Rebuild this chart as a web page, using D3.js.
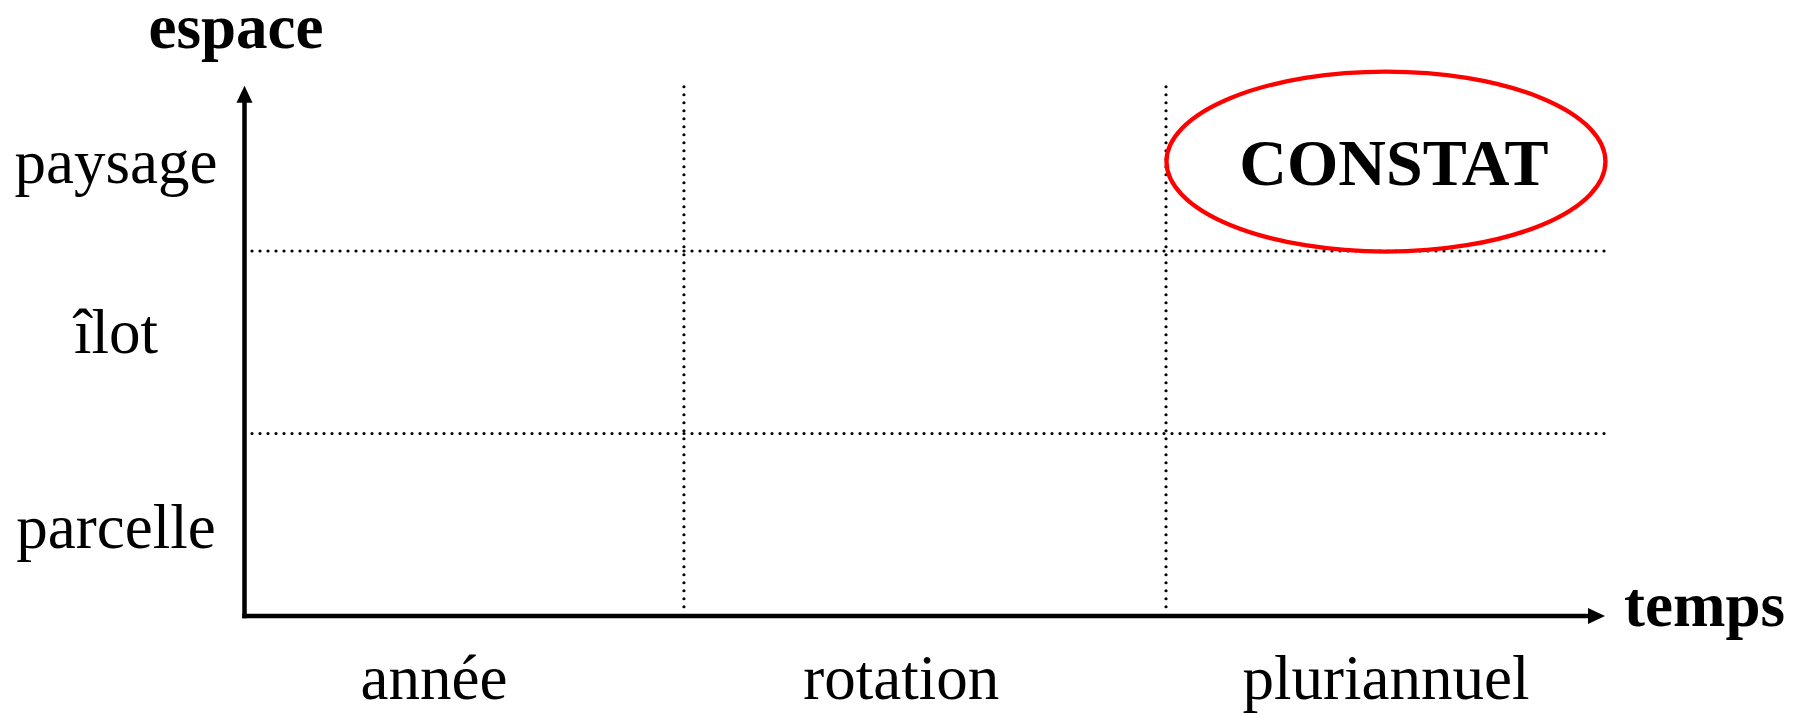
<!DOCTYPE html>
<html>
<head>
<meta charset="utf-8">
<script src="https://cdn.jsdelivr.net/npm/d3@7"></script>
<style>
  html, body { margin: 0; padding: 0; background: #fff; }
  svg { display: block; }
  text { font-family: "Liberation Serif", "Times New Roman", serif; fill: #000; }
</style>
</head>
<body>
<div id="chart"></div>
<script>
// ---- data ----
const spaceLevels = ["parcelle", "îlot", "paysage"];
const spaceLabelPos = [0.37, 1.44, 2.37];      // baseline of each row label, in space units
const spaceDividers = [1, 2];                    // dotted horizontal separators
const timeLevels = ["année", "rotation", "pluriannuel"];
const timeLabelPos = [0.418, 1.448, 2.517];      // centre of each column label, in time units
const timeDividers = [0.969, 2.032];             // dotted vertical separators
const highlight = [{ label: "CONSTAT", time: 2.517, space: 2.49, rt: 0.484, rs: 0.493 }];
const axisTitles = { x: "temps", y: "espace" };

// ---- layout ----
const W = 1802, H = 715;
const svg = d3.select("#chart").append("svg").attr("width", W).attr("height", H);

const x = d3.scaleLinear().domain([0, 3]).range([244.5, 1605]);
const y = d3.scaleLinear().domain([0, 3]).range([616, 68.5]);

const yTop = 2.905;    // arrow tip of the space axis
const gridTop = 2.9;

// dotted horizontal dividers
svg.selectAll("line.hgrid").data(spaceDividers).join("line")
  .attr("class", "hgrid")
  .attr("x1", x(0) + 7.5).attr("x2", x(3))
  .attr("y1", d => y(d)).attr("y2", d => y(d))
  .attr("stroke", "#000").attr("stroke-width", 3.2)
  .attr("stroke-linecap", "round").attr("stroke-dasharray", "0 8");

// dotted vertical dividers
svg.selectAll("line.vgrid").data(timeDividers).join("line")
  .attr("class", "vgrid")
  .attr("x1", d => x(d)).attr("x2", d => x(d))
  .attr("y1", y(gridTop)).attr("y2", y(0) - 9)
  .attr("stroke", "#000").attr("stroke-width", 3.2)
  .attr("stroke-linecap", "round").attr("stroke-dasharray", "0 8");

// axes
const axisW = 4.5, headL = 17, headHW = 8;
svg.append("line")
  .attr("x1", x(0)).attr("x2", x(0))
  .attr("y1", y(0) + axisW / 2).attr("y2", y(yTop) + headL - 1)
  .attr("stroke", "#000").attr("stroke-width", axisW);
svg.append("path")
  .attr("d", `M${x(0)},${y(yTop)} L${x(0) - headHW},${y(yTop) + headL} L${x(0) + headHW},${y(yTop) + headL} Z`)
  .attr("fill", "#000");
svg.append("line")
  .attr("x1", x(0) - axisW / 2).attr("x2", x(3) - headL + 1)
  .attr("y1", y(0)).attr("y2", y(0))
  .attr("stroke", "#000").attr("stroke-width", axisW);
svg.append("path")
  .attr("d", `M${x(3)},${y(0)} L${x(3) - headL},${y(0) - headHW} L${x(3) - headL},${y(0) + headHW} Z`)
  .attr("fill", "#000");

// row labels
svg.selectAll("text.ylab").data(spaceLevels).join("text")
  .attr("class", "ylab")
  .attr("x", 116)
  .attr("y", (d, i) => y(spaceLabelPos[i]))
  .attr("text-anchor", "middle")
  .style("font-size", "63px")
  .text(d => d);

// column labels
svg.selectAll("text.xlab").data(timeLevels).join("text")
  .attr("class", "xlab")
  .attr("x", (d, i) => x(timeLabelPos[i]))
  .attr("y", 699)
  .attr("text-anchor", "middle")
  .style("font-size", "63px")
  .text(d => d);

// axis titles
svg.append("text")
  .attr("x", 236).attr("y", 48)
  .attr("text-anchor", "middle")
  .style("font-size", "63px").style("font-weight", "bold")
  .text(axisTitles.y);
svg.append("text")
  .attr("x", 1624).attr("y", 626)
  .attr("text-anchor", "start")
  .style("font-size", "63px").style("font-weight", "bold")
  .text(axisTitles.x);

// highlight ellipse
const hl = svg.selectAll("g.hl").data(highlight).join("g").attr("class", "hl");
hl.append("ellipse")
  .attr("cx", d => x(d.time)).attr("cy", d => y(d.space))
  .attr("rx", d => x(d.time + d.rt) - x(d.time))
  .attr("ry", d => y(d.space) - y(d.space + d.rs))
  .attr("fill", "none").attr("stroke", "#ff0000").attr("stroke-width", 4.3);
hl.append("text")
  .attr("x", d => x(d.time) + 8).attr("y", d => y(d.space) + 23)
  .attr("text-anchor", "middle")
  .style("font-size", "66px").style("font-weight", "bold")
  .text(d => d.label);
</script>
</body>
</html>
